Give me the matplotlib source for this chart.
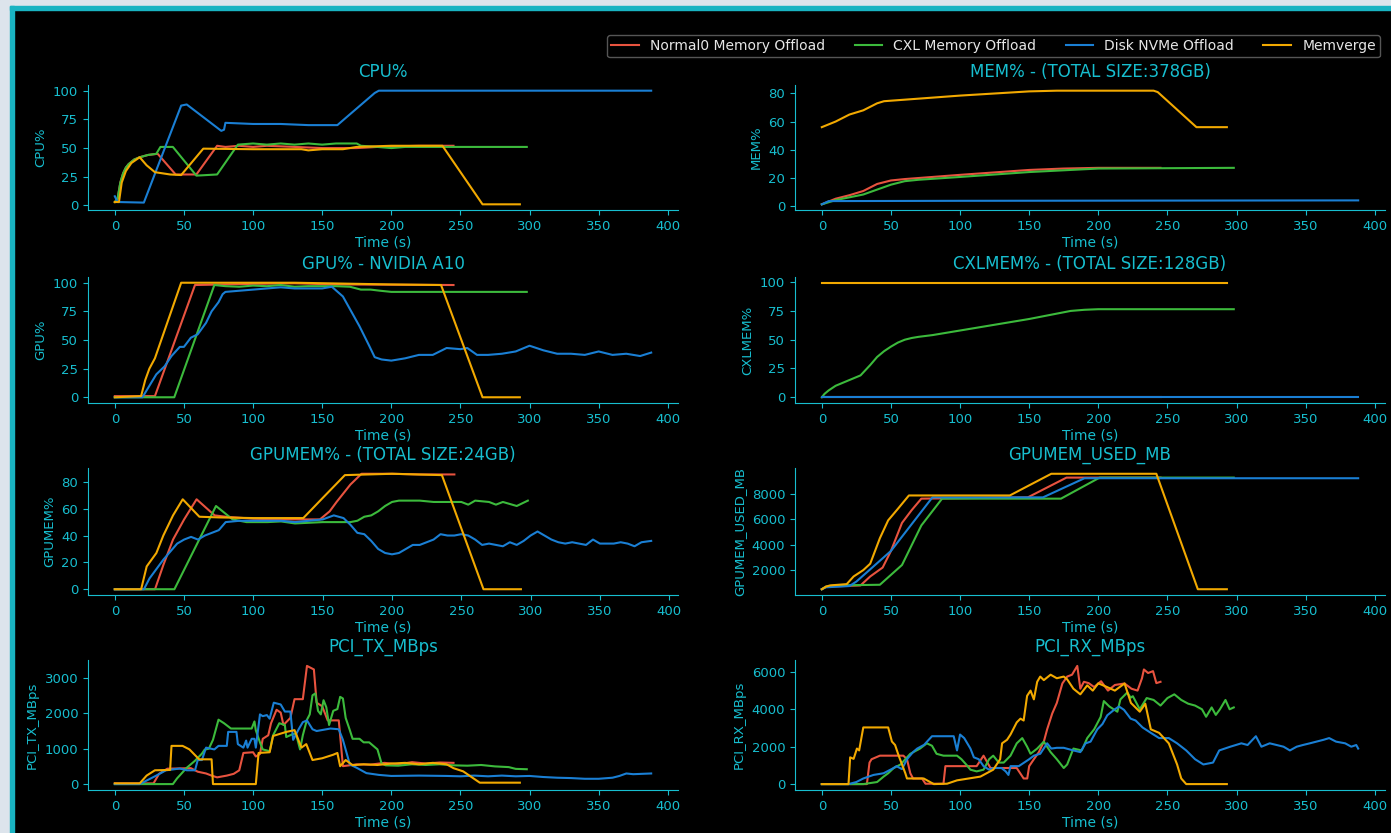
import matplotlib
matplotlib.use("Agg")
import numpy as np
import matplotlib.pyplot as plt
from matplotlib.patches import Rectangle

# (time s, value) pairs, one list per panel and run
cpu_normal = [(0, 3), (2, 6), (4, 20), (6, 28), (8, 33), (10, 36), (14, 40), (18, 42), (24, 44), (31, 45),
              (44, 27), (59, 27), (74, 52), (80, 51), (90, 52), (100, 51), (110, 52), (130, 51), (150, 50),
              (175, 50), (190, 51), (220, 52), (245, 52)]
cpu_cxl = [(0, 3), (2, 6), (4, 20), (6, 28), (8, 33), (10, 36), (14, 40), (18, 42), (24, 44), (30, 45),
           (33, 51), (42, 51), (59, 26), (74, 27), (89, 53), (100, 54), (110, 53), (120, 54), (130, 53),
           (140, 54), (150, 53), (160, 54), (175, 54), (178, 52), (190, 51), (200, 50), (210, 51), (250, 51),
           (298, 51)]
cpu_disk = [(0, 8), (2, 3), (21, 2.5), (48, 87), (52, 88), (77, 65), (79, 66), (80, 72), (100, 71),
            (120, 71), (140, 70), (161, 70), (188, 98), (191, 100), (388, 100)]
cpu_memverge = [(0, 3), (3, 3), (5, 20), (8, 30), (12, 37), (18, 42), (23, 35), (29, 29), (40, 27),
                (48, 26.5), (64, 49.5), (100, 49), (135, 49), (140, 48), (150, 49), (165, 49), (175, 51),
                (200, 52), (237, 52), (266, 1), (293, 1)]

mem_normal = [(0, 1), (10, 5), (20, 7.5), (30, 10.5), (40, 15.5), (50, 18), (60, 19), (100, 22),
              (150, 25.5), (175, 26.5), (200, 27), (245, 27)]
mem_cxl = [(0, 1), (10, 4), (20, 6), (30, 8), (40, 11.5), (50, 15), (60, 17.5), (70, 18.5), (100, 20.5),
           (150, 24), (200, 26.5), (298, 27)]
mem_disk = [(0, 1), (5, 3.3), (100, 3.5), (388, 3.8)]
mem_memverge = [(0, 56), (10, 60), (20, 65), (30, 68), (40, 73), (45, 74.5), (100, 78.5), (150, 81.5),
                (170, 82), (240, 82), (243, 81), (271, 56), (293, 56)]

gpu_normal = [(0, 1), (29, 1), (58, 98), (100, 99), (130, 99.5), (160, 98.5), (245, 98)]
gpu_cxl = [(0, 0), (43, 0), (72, 98), (80, 97), (90, 96.5), (100, 97.5), (110, 97), (120, 98), (130, 96.5),
           (140, 97), (160, 97), (170, 96.5), (178, 94), (185, 94), (192, 93), (200, 92), (250, 92),
           (298, 92)]
gpu_disk = [(0, 0), (20, 0), (26, 12), (30, 20), (36, 27), (41, 36), (47, 44), (50, 44), (55, 52),
            (60, 55), (66, 65), (70, 75), (75, 83), (78, 90), (80, 92), (90, 93), (100, 94), (110, 95),
            (120, 96), (130, 95), (140, 95), (150, 95), (157, 96.5), (165, 88), (171, 75), (177, 62),
            (184, 45), (188, 35), (193, 33), (200, 32), (210, 34), (220, 37), (230, 37), (240, 43),
            (250, 42), (255, 43), (262, 37), (270, 37), (280, 38), (290, 40), (300, 45), (310, 41),
            (320, 38), (330, 38), (340, 37), (350, 40), (360, 37), (370, 38), (380, 36), (388, 39)]
gpu_memverge = [(0, 0), (19, 1), (22, 15), (25, 25), (29, 34), (48, 100), (130, 100), (200, 98.5),
                (236, 98), (266, 0), (293, 0)]

gpumem_normal = [(0, 0), (29, 0), (35, 18), (42, 37), (50, 52), (59, 67), (72, 55), (80, 54), (100, 52.5),
                 (120, 52), (148, 52), (155, 58), (160, 65), (170, 78), (178, 86), (200, 86), (220, 85.5),
                 (245, 85.5)]
gpumem_cxl = [(0, 0), (43, 0), (73, 62), (85, 52), (95, 50), (110, 50), (120, 50.5), (130, 49), (150, 50),
              (170, 50), (175, 51), (180, 54), (185, 55), (190, 58), (195, 62), (200, 65), (205, 66),
              (220, 66), (230, 65), (250, 65), (255, 63), (260, 66), (270, 65), (275, 63), (280, 65),
              (290, 62), (298, 66)]
gpumem_disk = [(0, 0), (21, 0), (25, 8), (30, 15), (35, 22), (40, 28), (45, 34), (50, 37), (55, 39),
               (60, 37), (65, 40), (70, 42), (75, 44), (80, 50), (90, 51), (100, 51), (120, 51), (130, 50),
               (140, 51), (150, 52), (158, 55), (165, 53), (170, 48), (175, 42), (180, 41), (185, 36),
               (190, 30), (195, 27), (200, 26), (205, 27), (210, 30), (215, 33), (220, 33), (225, 35),
               (230, 37), (235, 41), (240, 40), (245, 40), (250, 41), (255, 40), (260, 37), (265, 33),
               (270, 34), (280, 32), (285, 35), (290, 33), (295, 36), (300, 40), (305, 43), (310, 40),
               (315, 37), (320, 35), (325, 34), (330, 35), (340, 33), (345, 37), (350, 34), (360, 34),
               (365, 35), (370, 34), (375, 32), (380, 35), (387, 36)]
gpumem_memverge = [(0, 0), (19, 0), (23, 17), (30, 27), (35, 40), (42, 55), (49, 67), (61, 54), (75, 53.5),
                   (100, 53), (136, 53), (150, 68), (166, 85), (200, 86), (236, 85), (266, 0), (293, 0)]

cxl_normal = [(0, 0), (245, 0)]
cxl_cxl = [(0, 0), (2, 3), (5, 6), (10, 10), (20, 15), (28, 19), (35, 28), (40, 35), (45, 40), (50, 44),
           (55, 47.5), (60, 50), (65, 51.5), (70, 52.5), (80, 54), (100, 58), (150, 68), (180, 75),
           (190, 76), (200, 76.5), (298, 76.5)]
cxl_disk = [(0, 0), (388, 0)]
cxl_memverge = [(0, 99.5), (293, 99.5)]

used_normal = [(0, 500), (3, 700), (28, 800), (35, 1500), (44, 2200), (50, 3500), (58, 5700), (65, 6700),
               (72, 7600), (149, 7700), (177, 9250), (245, 9250)]
used_cxl = [(0, 500), (3, 700), (10, 800), (42, 850), (58, 2400), (72, 5500), (87, 7600), (173, 7600),
            (201, 9250), (298, 9250)]
used_disk = [(0, 500), (3, 650), (20, 750), (25, 1100), (50, 3500), (80, 7700), (160, 7700), (190, 9200),
             (388, 9200)]
used_memverge = [(0, 500), (3, 700), (6, 800), (18, 900), (23, 1500), (30, 2000), (35, 2500), (42, 4500),
                 (48, 5900), (55, 6800), (63, 7850), (136, 7850), (166, 9550), (242, 9550), (272, 500),
                 (293, 500)]

tx_normal = [(0, 20), (28, 20), (32, 290), (38, 435), (55, 450), (60, 350), (66, 300), (70, 240), (74, 190),
             (81, 240), (86, 290), (90, 390), (93, 880), (100, 900), (102, 780), (105, 850), (107, 1280),
             (111, 1380), (113, 1720), (117, 2100), (120, 2020), (122, 1670), (127, 1870), (130, 2400),
             (136, 2400), (139, 3340), (144, 3240), (146, 2300), (150, 2200), (154, 1800), (162, 1800),
             (165, 507), (175, 557), (185, 550), (195, 600), (205, 560), (215, 620), (225, 580),
             (235, 610), (245, 600)]
tx_cxl = [(0, 0), (42, 0), (45, 160), (52, 460), (58, 660), (63, 860), (65, 975), (68, 1000), (71, 1250),
          (75, 1820), (79, 1720), (84, 1570), (95, 1570), (99, 1570), (101, 1770), (102, 1520), (105, 1180),
          (107, 980), (112, 930), (114.5, 1380), (119, 1720), (123, 1670), (124, 1330), (128, 1400),
          (131, 1430), (134, 980), (136, 1380), (139, 1820), (141, 1970), (143, 2510), (145, 2560),
          (147, 2070), (149, 1970), (151, 2370), (153, 2170), (155, 1670), (158, 2070), (161, 2120),
          (163, 2465), (165, 2420), (167, 1870), (170, 1525), (172, 1280), (177, 1280), (180, 1180),
          (184, 1180), (187, 1080), (190, 980), (193, 580), (196, 530), (205, 520), (215, 560), (225, 540),
          (235, 560), (245, 530), (255, 520), (265, 540), (275, 500), (285, 480), (290, 430), (298, 420)]
tx_disk = [(0, 0), (18, 0), (25, 140), (30, 240), (37, 390), (47, 440), (52, 390), (58, 390), (60, 680),
           (63, 680), (66, 1030), (72, 980), (75, 1080), (81, 1080), (82, 1475), (88, 1475), (89, 1130),
           (93, 1030), (95, 1230), (96, 1030), (99, 1280), (101, 1280), (102, 1030), (105, 1970),
           (107, 1920), (110, 1950), (112, 1850), (115, 2300), (120, 2250), (123, 2050), (127, 2050),
           (129, 1250), (133, 1550), (136, 1750), (139, 1800), (143, 1550), (146, 1500), (156, 1570),
           (162, 1550), (165, 1250), (170, 557), (175, 460), (182, 310), (191, 260), (200, 230), (220, 240),
           (240, 230), (250, 220), (260, 240), (270, 220), (280, 240), (290, 220), (300, 230), (310, 200),
           (320, 180), (330, 170), (340, 150), (350, 150), (360, 180), (365, 230), (370, 300), (375, 280),
           (388, 300)]
tx_memverge = [(0, 20), (18, 20), (23, 240), (29, 390), (40, 400), (41, 1080), (49, 1080), (54, 980),
               (59, 780), (61, 700), (70, 700), (71, 0), (102, 0), (104, 880), (112, 900), (114.5, 1360),
               (124, 1475), (130, 1525), (132.5, 1280), (135, 1030), (138.5, 1130), (143, 680), (150, 730),
               (158, 830), (161, 880), (163, 505), (167, 680), (172, 535), (180, 560), (190, 540),
               (200, 580), (210, 600), (220, 560), (230, 600), (240, 560), (245, 450), (252, 360),
               (258, 200), (264, 40), (293, 40)]

rx_normal = [(0, 0), (32.6, 0), (34.5, 1150), (36, 1330), (42, 1520), (59, 1520), (61.6, 1330), (64, 580),
             (66, 300), (72.5, 300), (75, 20), (88, 20), (89.4, 960), (104, 960), (112, 960), (117, 1520),
             (122, 860), (141, 860), (146, 300), (148.6, 300), (150, 960), (153.4, 1330), (157, 1710),
             (160.6, 2270), (163, 2930), (166.7, 3780), (170, 4340), (174, 5380), (177.5, 5750),
             (181, 5850), (184.8, 6320), (187, 5100), (189.6, 5470), (193, 5400), (197, 5190), (202, 5500),
             (207, 5000), (212, 5300), (219, 5380), (224, 5100), (228.4, 5000), (231.6, 5660), (233, 6130),
             (236, 5940), (239.6, 6040), (242, 5400), (245, 5470)]
rx_cxl = [(0, 0), (30, 0), (40, 110), (44.7, 400), (48, 580), (52, 860), (57, 1050), (60.4, 1330),
          (64, 1620), (71, 1900), (76, 2180), (79.7, 2050), (83, 1620), (88, 1520), (97.8, 1520), (101, 1330),
          (105, 1000), (107.5, 770), (112, 680), (117, 770), (121, 1330), (124, 1520), (128, 1150),
          (131.6, 1150), (136.5, 1520), (141, 2180), (145, 2460), (148.5, 2000), (151, 1620), (155.8, 1900),
          (160.6, 2270), (165.5, 1710), (170, 1330), (175, 860), (177.5, 1050), (182, 1900), (188, 1800),
          (192, 2460), (197, 2930), (201.7, 3590), (204, 4440), (208, 4150), (213.8, 3870), (216, 4530),
          (221, 4900), (223.4, 4620), (225, 4700), (230, 4000), (235, 4600), (240, 4500), (245, 4200),
          (250, 4600), (255, 4800), (260, 4500), (265, 4300), (270, 4200), (275, 4000), (278, 3600),
          (282, 4100), (285, 3700), (288, 4000), (292, 4500), (295, 4000), (298, 4100)]
rx_disk = [(0, 0), (19.3, 0), (25, 110), (30, 300), (37.4, 490), (44.7, 580), (52, 860), (54, 960),
           (58, 800), (61.6, 1330), (66, 1710), (69, 1900), (74, 2100), (79.7, 2560), (90, 2560),
           (95.4, 2560), (97.8, 1800), (100, 2650), (103, 2460), (107.5, 1900), (110, 1430), (113.5, 1330),
           (117, 960), (121, 770), (124.4, 860), (130, 860), (133, 680), (135, 490), (136.5, 960),
           (142.5, 960), (150, 1330), (153.4, 1520), (158, 1620), (163, 2180), (166, 1900), (170, 1940),
           (175, 1940), (182, 1800), (187, 1710), (190.8, 2180), (194.4, 2270), (199.3, 2930), (203, 3210),
           (206.5, 3680), (211.4, 3970), (215, 4150), (218.6, 3970), (223.4, 3500), (227, 3400),
           (232, 3030), (238, 2740), (244, 2460), (251, 2460), (257, 2180), (263.6, 1800), (270, 1330),
           (276, 1050), (283, 1150), (287.5, 1800), (295.5, 2000), (303.5, 2180), (308, 2090), (314, 2560),
           (318, 2000), (324, 2180), (334, 2000), (338.6, 1800), (343.5, 2000), (348, 2090), (353, 2180),
           (363, 2370), (367, 2460), (372, 2270), (378.6, 2180), (383, 2000), (386.6, 2090), (388, 1900)]
rx_memverge = [(0, 0), (19.3, 0), (20.5, 1430), (23, 1350), (25.4, 1900), (27, 1800), (30, 3030), (48, 3030),
               (50.7, 2275), (53, 2090), (55.6, 1520), (60.4, 580), (61.6, 300), (73.7, 300), (81, 0),
               (90.6, 20), (97.8, 200), (114.7, 400), (124, 770), (129, 1330), (130.4, 2180), (134, 2370),
               (136.5, 2650), (141, 3300), (143.7, 3500), (146, 3400), (148.5, 4720), (151, 5000),
               (153.4, 4530), (155.8, 5470), (158, 5750), (160.6, 5560), (165.5, 5850), (170, 5660),
               (175, 5750), (177.5, 5600), (182, 5100), (187, 4800), (192, 5280), (196, 5000), (200, 5390),
               (206, 5200), (212, 5000), (219, 5380), (223.6, 4340), (230, 3870), (234, 4300), (238, 2930),
               (244, 2740), (251, 2180), (257, 1050), (260, 300), (263.6, 0), (293, 0)]

labels = ["Normal0 Memory Offload", "CXL Memory Offload", "Disk NVMe Offload", "Memverge"]
colors = ["#e8533f", "#3cba3c", "#1a7fd4", "#f2a900"]
txt = "#17becf"

panels = [
    ("CPU%", "CPU%", [cpu_normal, cpu_cxl, cpu_disk, cpu_memverge], range(0, 101, 25)),
    ("MEM% - (TOTAL SIZE:378GB)", "MEM%", [mem_normal, mem_cxl, mem_disk, mem_memverge], range(0, 81, 20)),
    ("GPU% - NVIDIA A10", "GPU%", [gpu_normal, gpu_cxl, gpu_disk, gpu_memverge], range(0, 101, 25)),
    ("CXLMEM% - (TOTAL SIZE:128GB)", "CXLMEM%", [cxl_normal, cxl_cxl, cxl_disk, cxl_memverge],
     range(0, 101, 25)),
    ("GPUMEM% - (TOTAL SIZE:24GB)", "GPUMEM%", [gpumem_normal, gpumem_cxl, gpumem_disk, gpumem_memverge],
     range(0, 81, 20)),
    ("GPUMEM_USED_MB", "GPUMEM_USED_MB", [used_normal, used_cxl, used_disk, used_memverge],
     range(2000, 8001, 2000)),
    ("PCI_TX_MBps", "PCI_TX_MBps", [tx_normal, tx_cxl, tx_disk, tx_memverge], range(0, 3001, 1000)),
    ("PCI_RX_MBps", "PCI_RX_MBps", [rx_normal, rx_cxl, rx_disk, rx_memverge], range(0, 6001, 2000)),
]

W, H = 1391, 833
fig = plt.figure(figsize=(W / 100, H / 100), dpi=100, facecolor="black")

# screenshot frame (light margin + cyan border on top/left)
fig.add_artist(Rectangle((0, 0), 10 / W, 1, transform=fig.transFigure, color="#dde4ec", zorder=-5))
fig.add_artist(Rectangle((0, 1 - 6 / H), 1, 6 / H, transform=fig.transFigure, color="#dde4ec", zorder=-5))
fig.add_artist(Rectangle((10 / W, 0), 4 / W, 1 - 6 / H, transform=fig.transFigure, color="#19b3c2", zorder=-4))
fig.add_artist(Rectangle((10 / W, 1 - 10 / H), 1, 4 / H, transform=fig.transFigure, color="#19b3c2", zorder=-4))

col_x = [88, 795]
ax_w = 590
rows = [(85, 210), (277, 403), (468, 595), (660, 790)]

handles = None
for i, (title, ylab, series, yt) in enumerate(panels):
    r, c = divmod(i, 2)
    top, bot = rows[r]
    ax = fig.add_axes([col_x[c] / W, 1 - bot / H, ax_w / W, (bot - top) / H])
    ax.set_facecolor("black")
    hs = []
    for s, col, lab in zip(series, colors, labels):
        arr = np.array(s, dtype=float)
        h, = ax.plot(arr[:, 0], arr[:, 1], color=col, lw=1.5, label=lab)
        hs.append(h)
    handles = hs
    ax.set_title(title, color=txt, fontsize=12)
    ax.set_ylabel(ylab, color=txt, fontsize=9.5)
    ax.set_xlabel("Time (s)", color=txt, fontsize=10, labelpad=2)
    ax.set_xticks(range(0, 401, 50))
    ax.set_yticks(list(yt))
    for side in ["top", "right"]:
        ax.spines[side].set_visible(False)
    for side in ["left", "bottom"]:
        ax.spines[side].set_color(txt)
    ax.tick_params(colors=txt, labelsize=9.5)

leg = fig.legend(handles, labels, loc="upper right", ncol=4, bbox_to_anchor=(1387 / W, 1 - 28 / H),
                 fontsize=10, facecolor="black", edgecolor="#555555", framealpha=1,
                 borderpad=0.3, columnspacing=2.1, handlelength=2.0, handletextpad=0.8)
for t in leg.get_texts():
    t.set_color("#e6e6e6")

fig.savefig("out.png", dpi=100, facecolor="black")
